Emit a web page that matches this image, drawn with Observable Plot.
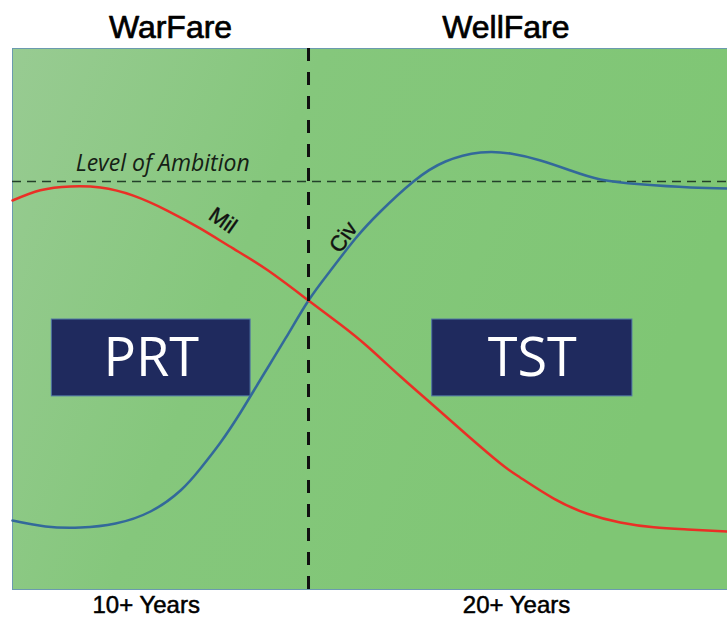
<!DOCTYPE html>
<html>
<head>
<meta charset="utf-8">
<script src="https://cdn.jsdelivr.net/npm/d3@7"></script>
<script src="https://cdn.jsdelivr.net/npm/@observablehq/plot@0.6"></script>
<style>
  html, body { margin: 0; padding: 0; background: #fff; }
  #chart svg { display: block; }
</style>
</head>
<body>
<div id="chart"></div>
<script>
// Relative time (0–100) and relative capability level (0–100)
const civT = [0, 4.62, 9.51, 14.41, 19.30, 23.50, 26.29, 29.09, 31.89, 34.69, 38.18, 41.40, 44.48, 47.97, 51.47, 56.08, 60.56, 65.45, 69.65, 73.85, 78.04, 82.24, 87.83, 94.83, 100];
const civLevel = [12.75, 11.65, 11.46, 12.20, 14.42, 18.30, 22.37, 27.17, 32.72, 38.82, 46.40, 53.42, 58.96, 64.88, 69.87, 75.42, 79.11, 80.78, 80.59, 79.30, 77.45, 75.79, 74.91, 74.32, 74.14];
const milT = [0, 3.9, 8.1, 12.3, 16.9, 21.7, 26.3, 30.9, 35.7, 41.40, 45.87, 49.65, 54.27, 58.88, 63.64, 68.25, 71.0, 75.7, 80.4, 85.0, 89.7, 94.4, 100];
const milLevel = [71.9, 73.8, 74.5, 74.3, 72.8, 70.0, 66.7, 63.0, 59.0, 53.42, 48.98, 44.92, 39.37, 34.01, 28.47, 23.29, 20.7, 16.8, 14.0, 12.4, 11.5, 11.1, 10.7];

const ambitionLevel = 75.4;
const transitionT = 41.4;

const phaseNames = ["WarFare", "WellFare"];
const phaseT = [22.1, 69.0];
const durationLabels = ["10+ Years", "20+ Years"];
const durationT = [18.7, 70.5];

const boxLabels = ["PRT", "TST"];
const boxT1 = [5.5, 58.7];
const boxT2 = [33.3, 86.7];
const boxLow = 35.7;
const boxHigh = 49.9;

const seriesNames = ["Mil", "Civ"];
const seriesLabelT = [29.4, 46.3];
const seriesLabelLevel = [68.2, 65.1];
const seriesLabelAngle = [35, -55];

const civ = civT.map((t, i) => ({t, v: civLevel[i]}));
const mil = milT.map((t, i) => ({t, v: milLevel[i]}));
const phases = phaseNames.map((name, i) => ({name, t: phaseT[i]}));
const durations = durationLabels.map((name, i) => ({name, t: durationT[i]}));
const boxes = boxLabels.map((name, i) => ({name, t1: boxT1[i], t2: boxT2[i], tm: (boxT1[i] + boxT2[i]) / 2}));
const seriesLabels = seriesNames.map((name, i) => ({name, t: seriesLabelT[i], v: seriesLabelLevel[i], a: seriesLabelAngle[i]}));

const sans = "'Liberation Sans', Arial, sans-serif";
const chart = Plot.plot({
  width: 727,
  height: 618,
  marginLeft: 12,
  marginRight: 0,
  marginTop: 48,
  marginBottom: 29,
  x: {domain: [0, 100], axis: null},
  y: {domain: [0, 100], axis: null},
  style: {background: "#ffffff", fontFamily: sans},
  marks: [
    Plot.frame({fill: "url(#bgGrad)", stroke: "#6b9aaf", strokeWidth: 1}),
    Plot.ruleY([ambitionLevel], {stroke: "#23402a", strokeWidth: 1.5, strokeDasharray: "9,6"}),
    Plot.text(["Level of Ambition"], {x: 21, y: 78.8, text: d => d, fontSize: 23, fontStyle: "italic", fill: "#152015", fontFamily: "'Open Sans', sans-serif"}),
    Plot.rect(boxes, {x1: "t1", x2: "t2", y1: boxLow, y2: boxHigh, fill: "#1f2a5e", stroke: "#4f74a6", strokeWidth: 1}),
    Plot.text(boxes, {x: "tm", y: (boxLow + boxHigh) / 2, text: "name", fill: "#ffffff", fontSize: 54, fontFamily: "'Open Sans', sans-serif", dy: 1}),
    Plot.line(civ, {x: "t", y: "v", stroke: "#33699a", strokeWidth: 2.5, curve: "natural"}),
    Plot.line(mil, {x: "t", y: "v", stroke: "#ea2f26", strokeWidth: 2.5, curve: "natural"}),
    Plot.ruleX([transitionT], {stroke: "#111111", strokeWidth: 3, strokeDasharray: "13,11"}),
    Plot.text(seriesLabels, {x: "t", y: "v", text: "name", rotate: "a", fontSize: 22, fill: "#111", fontFamily: sans, stroke: "#111", strokeWidth: 0.4}),
    Plot.text(phases, {x: "t", y: 103.8, text: "name", fontSize: 32, fill: "#000", fontFamily: sans, stroke: "#000", strokeWidth: 0.7}),
    Plot.text(durations, {x: "t", y: -3.0, text: "name", fontSize: 24, fill: "#000", fontFamily: sans, stroke: "#000", strokeWidth: 0.5})
  ]
});

// Soft green gradient used by the frame fill
const svg = d3.select(chart.tagName.toLowerCase() === "svg" ? chart : chart.querySelector("svg"));
const defs = svg.insert("defs", ":first-child");
const g = defs.append("linearGradient").attr("id", "bgGrad").attr("x1", "0").attr("x2", "1").attr("y1", "0").attr("y2", "0.3");
g.append("stop").attr("offset", "0%").attr("stop-color", "#98cb92");
g.append("stop").attr("offset", "40%").attr("stop-color", "#85c77c");
g.append("stop").attr("offset", "100%").attr("stop-color", "#7fc674");

document.getElementById("chart").appendChild(chart);
</script>
</body>
</html>
